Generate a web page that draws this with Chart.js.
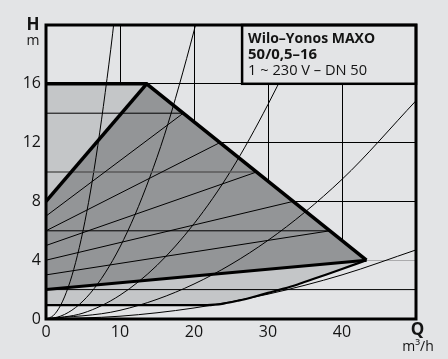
<!DOCTYPE html>
<html><head><meta charset="utf-8">
<script src="https://cdn.jsdelivr.net/npm/chart.js@4.4.1/dist/chart.umd.min.js"></script>
<style>html,body{margin:0;padding:0;background:#e3e4e6;}canvas{display:block;}</style>
</head><body>
<canvas id="c" width="448" height="359"></canvas>
<script>
// ---- tick definitions ----
const xTicks = [0, 10, 20, 30, 40, 50];
const xLabels = [0, 10, 20, 30, 40];
const yTicks = [0, 2, 4, 8, 12, 16, 20];
const yLabels = [0, 4, 8, 12, 16];

// ---- operating range ----
const maxQ = [0, 13.6, 43.3];
const maxH = [16, 16, 4];
const darkQ = [0, 13.6, 43.3];
const darkH = [8, 16, 4];
const dpv16Q = [0, 13.6];
const dpv16H = [8, 16];
const dpv4Q = [0, 43.3];
const dpv4H = [2, 4];
const minQ = [0, 21.8, 24, 26, 28, 30, 32, 34, 36, 38, 40, 43.3];
const minH = [0.95, 0.95, 1.05, 1.25, 1.5, 1.78, 2.05, 2.35, 2.7, 3.05, 3.4, 4.0];
// area below the minimum curve (background), continued to the right edge
const maskQ = [0, 21.8, 24, 26, 28, 30, 32, 34, 36, 38, 40, 43.3, 50];
const maskH = [0.95, 0.95, 1.05, 1.25, 1.5, 1.78, 2.05, 2.35, 2.7, 3.05, 3.4, 4.0, 4.0];

// ---- Δp-v control lines ----
const dpv14Q = [0, 18.55]; const dpv14H = [7, 14];
const dpv12Q = [0, 23.5];  const dpv12H = [6, 12];
const dpv10Q = [0, 28.45]; const dpv10H = [5, 10];
const dpv8Q  = [0, 33.4];  const dpv8H  = [4, 8];
const dpv6Q  = [0, 38.35]; const dpv6H  = [3, 6];

// ---- Δp-c control lines ----
const dpc14Q = [0, 18.55]; const dpc14H = [14, 14];
const dpc10Q = [0, 28.45]; const dpc10H = [10, 10];
const dpc6Q  = [0, 38.35]; const dpc6H  = [6, 6];

// ---- H = 2 line ----
const line2Q = [0, 50]; const line2H = [2, 2];

// ---- system curves ----
const sysAQ = [0, 1, 2, 3, 4, 5, 6, 7, 8, 9, 9.5];
const sysAH = [0, 0.24, 0.96, 2.16, 3.84, 6.0, 8.64, 11.8, 15.4, 19.4, 21.7];
const sysBQ = [0, 2, 4, 6, 8, 10, 12, 14, 16, 18, 20, 21];
const sysBH = [0, 0.2, 0.78, 1.76, 3.14, 4.9, 7.06, 9.6, 12.5, 15.9, 19.6, 21.6];
const sysCQ = [0, 5, 10, 15, 20, 25, 30, 35, 36];
const sysCH = [0, 0.4, 1.62, 3.65, 6.48, 10.1, 14.6, 19.8, 21];
const sysDQ = [0, 10, 20, 30, 40, 50];
const sysDH = [0, 0.59, 2.38, 5.35, 9.5, 14.85];
const sysEQ = [0, 10, 20, 30, 40, 50];
const sysEH = [0, 0.19, 0.75, 1.69, 3.0, 4.7];

const BG = '#e3e4e6', MED = '#c4c6c8', DARK = '#939597', INK = '#141414';

const pts = (q, h) => q.map((v, i) => ({x: v, y: h[i]}));
function area(q, h, color, order, smooth) {
  const d = {data: pts(q, h), fill: 'origin', backgroundColor: color, borderWidth: 0, pointRadius: 0, order: order, tension: 0};
  if (smooth) d.cubicInterpolationMode = 'monotone';
  return d;
}
function line(q, h, width, color, order, smooth) {
  const d = {data: pts(q, h), fill: false, borderColor: color, borderWidth: width, pointRadius: 0, order: order, tension: 0};
  if (smooth) d.cubicInterpolationMode = 'monotone';
  return d;
}

const datasets = [
  area(maxQ, maxH, MED, 20),
  area(darkQ, darkH, DARK, 19),
  area(dpv4Q, dpv4H, MED, 18),
  area(maskQ, maskH, BG, 17, true),
  line(sysAQ, sysAH, 1, '#000', 6, true),
  line(sysBQ, sysBH, 1, '#000', 6, true),
  line(sysCQ, sysCH, 1, '#000', 6, true),
  line(sysDQ, sysDH, 1, '#000', 6, true),
  line(sysEQ, sysEH, 1, '#000', 6, true),
  line(dpv14Q, dpv14H, 1, '#000', 5),
  line(dpv12Q, dpv12H, 1, '#000', 5),
  line(dpv10Q, dpv10H, 1, '#000', 5),
  line(dpv8Q, dpv8H, 1, '#000', 5),
  line(dpv6Q, dpv6H, 1, '#000', 5),
  line(dpc14Q, dpc14H, 1, '#000', 5),
  line(dpc10Q, dpc10H, 1.5, '#5a5a5a', 5),
  line(dpc6Q, dpc6H, 1, '#000', 5),
  line(line2Q, line2H, 1, '#000', 5),
  line(minQ, minH, 2.2, '#000', 3, true),
  line(dpv4Q, dpv4H, 3, '#000', 2),
  line(dpv16Q, dpv16H, 3.5, '#000', 2),
  line(maxQ, maxH, 3.5, '#000', 1)
];

const overlay = {
  id: 'overlay',
  afterDraw(chart) {
    const ctx = chart.ctx, a = chart.chartArea;
    const xs = chart.scales.x, ys = chart.scales.y;
    ctx.save();
    // legend box
    const bx0 = xs.getPixelForValue(26.5), by1 = ys.getPixelForValue(16);
    ctx.fillStyle = BG;
    ctx.fillRect(bx0, a.top, a.right - bx0, by1 - a.top);
    ctx.lineWidth = 2.5; ctx.strokeStyle = '#000';
    ctx.strokeRect(bx0, a.top, a.right - bx0, by1 - a.top);
    ctx.fillStyle = INK;
    ctx.textAlign = 'left'; ctx.textBaseline = 'alphabetic';
    ctx.font = 'bold 15px "Open Sans"';
    ctx.fillText('Wilo\u2013Yonos MAXO', bx0 + 6, a.top + 18, 127);
    ctx.fillText('50/0,5\u201316', bx0 + 6, a.top + 34, 69);
    ctx.font = '15px "Open Sans"';
    ctx.fillText('1 ~ 230 V \u2013 DN 50', bx0 + 6, a.top + 50, 119);
    // frame
    ctx.lineWidth = 3;
    ctx.strokeRect(a.left, a.top, a.right - a.left, a.bottom - a.top);
    // axis titles
    ctx.textAlign = 'center'; ctx.textBaseline = 'middle';
    ctx.font = 'bold 17px "Open Sans"';
    ctx.fillText('H', a.left - 13, a.top);
    ctx.fillText('Q', a.right + 1.5, a.bottom + 11);
    ctx.font = '14px "Open Sans"';
    ctx.fillText('m', a.left - 13, a.top + 16);
    ctx.fillText('m\u00B3/h', a.right + 2, a.bottom + 28);
    ctx.restore();
  }
};

const tickFont = {family: 'Open Sans', size: 16};
new Chart(document.getElementById('c'), {
  type: 'line',
  data: {datasets: datasets},
  options: {
    responsive: false, animation: false, devicePixelRatio: 1,
    layout: {padding: {left: 0, right: 32, top: 25, bottom: 0}},
    plugins: {legend: {display: false}, tooltip: {enabled: false}},
    scales: {
      x: {
        type: 'linear', min: 0, max: 50, z: 1,
        afterBuildTicks: s => { s.ticks = xTicks.map(v => ({value: v})); },
        afterFit: s => { s.height = 40; },
        grid: {color: '#000', lineWidth: 1, drawTicks: false},
        border: {display: false},
        ticks: {font: tickFont, color: INK, padding: 4, maxRotation: 0,
          callback: v => xLabels.includes(v) ? String(v) : ''}
      },
      y: {
        type: 'linear', min: 0, max: 20, z: 1,
        afterBuildTicks: s => { s.ticks = yTicks.map(v => ({value: v})); },
        afterFit: s => { s.width = 46; },
        grid: {color: '#000', lineWidth: 1, drawTicks: false},
        border: {display: false},
        ticks: {font: tickFont, color: INK, padding: 5,
          callback: v => yLabels.includes(v) ? String(v) : ''}
      }
    }
  },
  plugins: [overlay]
});
</script>
</body></html>
